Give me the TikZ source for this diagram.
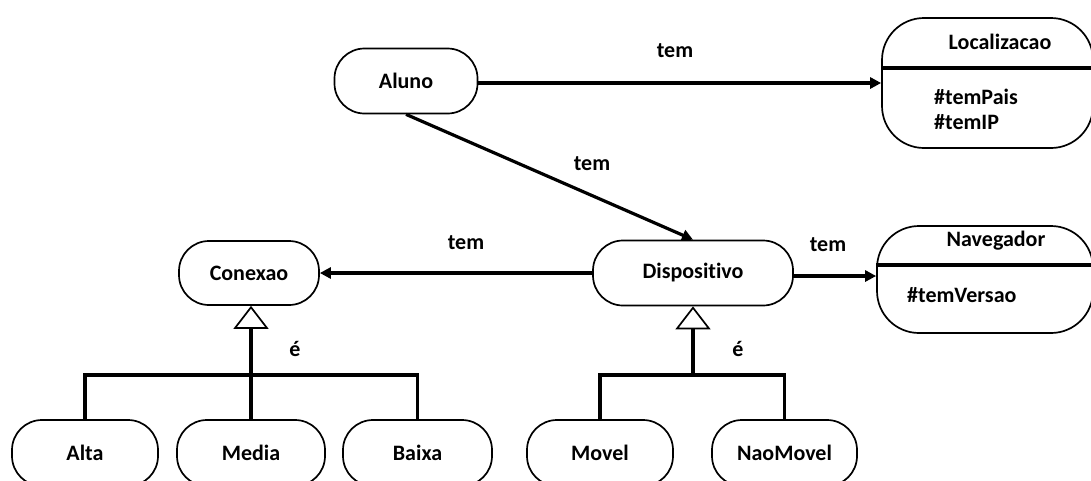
\documentclass[tikz,border=0pt]{standalone}
\usepackage{fontspec}
\setmainfont[Ligatures=CommonOff]{Carlito}
\usetikzlibrary{arrows.meta}
\begin{document}
\begin{tikzpicture}[x=1pt,y=-1pt,
  every node/.style={font=\fontsize{22}{24}\selectfont\bfseries, inner sep=0pt},
  entity/.style={draw, line width=1.7pt, rounded corners=30pt, minimum height=65pt},
  bigentity/.style={draw, line width=1.7pt, rounded corners=42pt},
  rel/.style={line width=3.2pt, -{Triangle[length=11pt,width=11pt]}},
  isa/.style={line width=3.2pt, -{Triangle[open,length=23pt,width=35pt,line width=1.7pt]}},
  bar/.style={line width=3.2pt},
  divider/.style={line width=3.2pt},
  lbl/.style={}]
\useasboundingbox (0,0) rectangle (1091,480);

% entities
\node[entity, minimum width=143pt] (aluno) at (406,81) {Aluno};
\node[entity, minimum width=200pt] (disp) at (693,273) {Dispositivo};
\node[entity, minimum width=140pt, minimum height=64pt] (conexao) at (249,273) {Conexao};
\node[entity, minimum width=146pt, minimum height=66pt] (alta) at (85,453) {Alta};
\node[entity, minimum width=148pt, minimum height=66pt] (media) at (251,453) {Media};
\node[entity, minimum width=149pt, minimum height=66pt] (baixa) at (417.5,453) {Baixa};
\node[entity, minimum width=146pt, minimum height=66pt] (movel) at (600,453) {Movel};
\node[entity, minimum width=145pt, minimum height=66pt] (naomovel) at (784.5,453) {NaoMovel};

% classes with an attribute compartment
\node[bigentity, minimum width=211pt, minimum height=130pt] (loc) at (987.5,83) {};
\draw[divider] (loc.west |- 0,68) -- (loc.east |- 0,68);
\node (loctitle) at (1000,42) {Localizacao};
\node[anchor=west] (locpais) at (934,97) {\#temPais};
\node[anchor=west] (locip) at (934,122) {\#temIP};

\node[bigentity, minimum width=216pt, minimum height=107pt] (nav) at (985,279.5) {};
\draw[divider] (nav.west |- 0,265) -- (nav.east |- 0,265);
\node (navtitle) at (996,241) {Navegador};
\node[anchor=west] (navver) at (907,295) {\#temVersao};

% associations
\draw[rel] (aluno.east |- 0,83) -- (loc.west |- 0,83);
\node[lbl] (t1) at (675,51) {tem};
\draw[rel] (aluno.south) -- (disp.north);
\node[lbl] (t2) at (592,164) {tem};
\draw[rel] (disp.west |- 0,273) -- (conexao.east |- 0,273);
\node[lbl] (t3) at (466,243) {tem};
\draw[rel] (disp.east |- 0,276) -- (nav.west |- 0,276);
\node[lbl] (t4) at (828,245) {tem};

% generalisations
\coordinate (jc) at (251,375);
\coordinate (jd) at (693,375);
\draw[bar] (alta.north) |- (jc) -| (baixa.north);
\draw[isa] (media.north) -- (media.north |- conexao.south);
\node[lbl] (e1) at (295,349) {é};
\draw[bar] (movel.north) |- (jd) -| (naomovel.north);
\draw[isa] (jd) -- (disp.south);
\node[lbl] (e2) at (738,349) {é};
\end{tikzpicture}
\end{document}
